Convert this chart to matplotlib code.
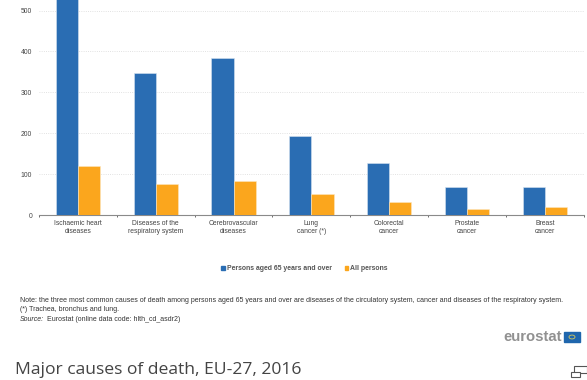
import matplotlib.pyplot as plt
import matplotlib.patches as patches
import numpy as np

# Data
categories = ["Ischaemic heart\ndiseases", "Diseases of the\nrespiratory system",
              "Cerebrovascular\ndiseases", "Lung\ncancer (*)", "Colorectal\ncancer",
              "Prostate\ncancer", "Breast\ncancer"]
aged_65 = [540, 347, 385, 192, 128, 68, 68]
all_persons = [120, 75, 82, 52, 32, 15, 19]
y_ticks = [0, 100, 200, 300, 400, 500]
series_names = ["Persons aged 65 years and over", "All persons"]
note_lines = ["Note: the three most common causes of death among persons aged 65 years and over are diseases of the circulatory system, cancer and diseases of the respiratory system.",
              "(*) Trachea, bronchus and lung."]
title = "Major causes of death, EU-27, 2016"

W, H = 587, 380
BLUE = "#2a6db3"
ORANGE = "#fba61d"

plt.rcParams['font.family'] = ['Liberation Sans', 'DejaVu Sans']

fig = plt.figure(figsize=(W / 100, H / 100), dpi=100)


# Position in figure fractions from reference pixels
def fx(x):
    return x / W


def fy(y):
    return 1 - y / H


ax = fig.add_axes([fx(39), fy(215), fx(583.7 - 39), 215 / H])
x = np.arange(len(categories))
bar_w = 0.285
ax.bar(x - bar_w / 2, aged_65, bar_w, color=BLUE, edgecolor="#d5e2f0", linewidth=0.4, zorder=3)
ax.bar(x + bar_w / 2, all_persons, bar_w, color=ORANGE, edgecolor="#fde6c0", linewidth=0.4, zorder=3)

ax.set_xlim(-0.5, len(categories) - 0.5)
ax.set_ylim(0, 525.7)
ax.set_yticks(y_ticks)
ax.set_xticks(x)
ax.set_xticklabels(categories, fontsize=4.9, color="#444444", linespacing=1.25)
ax.set_xticks(np.arange(len(categories) + 1) - 0.5, minor=True)
ax.tick_params(axis='x', which='major', length=0, pad=3.5)
ax.tick_params(axis='x', which='minor', length=1.5, width=0.6, color="#555555", direction='out')
ax.tick_params(axis='y', length=0, labelsize=4.9, labelcolor="#444444", pad=5)
ax.grid(axis='y', color="#d8d8d8", linestyle=':', linewidth=0.6, zorder=0)
for side in ['top', 'right', 'left']:
    ax.spines[side].set_visible(False)
ax.spines['bottom'].set_color("#8a8a8a")
ax.spines['bottom'].set_linewidth(0.8)

# Legend
fig.patches.append(patches.Rectangle((fx(221), fy(269.5)), 3.5 / W, 3.5 / H, color=BLUE, transform=fig.transFigure))
fig.text(fx(226.7), fy(268), series_names[0], fontsize=4.95, fontweight='bold', color="#555555", va='center')
fig.patches.append(patches.Rectangle((fx(345), fy(269.5)), 3.5 / W, 3.5 / H, color=ORANGE, transform=fig.transFigure))
fig.text(fx(350), fy(268), series_names[1], fontsize=4.95, fontweight='bold', color="#555555", va='center')

# Notes
fig.text(fx(20), fy(300), note_lines[0], fontsize=5.09, color="#333333", va='center')
fig.text(fx(20), fy(309.7), note_lines[1], fontsize=5.09, color="#333333", va='center')
fig.text(fx(20), fy(319.3), "Source:", fontsize=5.09, color="#333333", va='center', style='italic')
fig.text(fx(47), fy(319.3), "Eurostat (online data code: hlth_cd_asdr2)", fontsize=5.09, color="#333333", va='center')

# Eurostat logo
fig.text(fx(503), fy(337), "eurostat", fontsize=10.7, fontweight='bold', color="#919191", ha='left', va='center')
fig.patches.append(patches.Rectangle((fx(564), fy(342)), 16 / W, 10 / H, color="#1f66ad", transform=fig.transFigure))
fig.patches.append(patches.Circle((fx(572), fy(337)), 3 / W, fill=False, edgecolor="#d9c95a", linewidth=0.6, transform=fig.transFigure))

# Title and expand icon
fig.text(fx(14.7), fy(369.5), title, fontsize=12.6, family='Open Sans', color="#444444", va='center')
fig.patches.append(patches.Rectangle((fx(574), fy(373)), 12.5 / W, 7 / H, fill=False, edgecolor="#555555", linewidth=0.8, transform=fig.transFigure))
fig.patches.append(patches.Rectangle((fx(571), fy(377)), 9 / W, 5 / H, facecolor="white", edgecolor="#555555", linewidth=0.8, transform=fig.transFigure))

fig.savefig("out.png", dpi=100)
